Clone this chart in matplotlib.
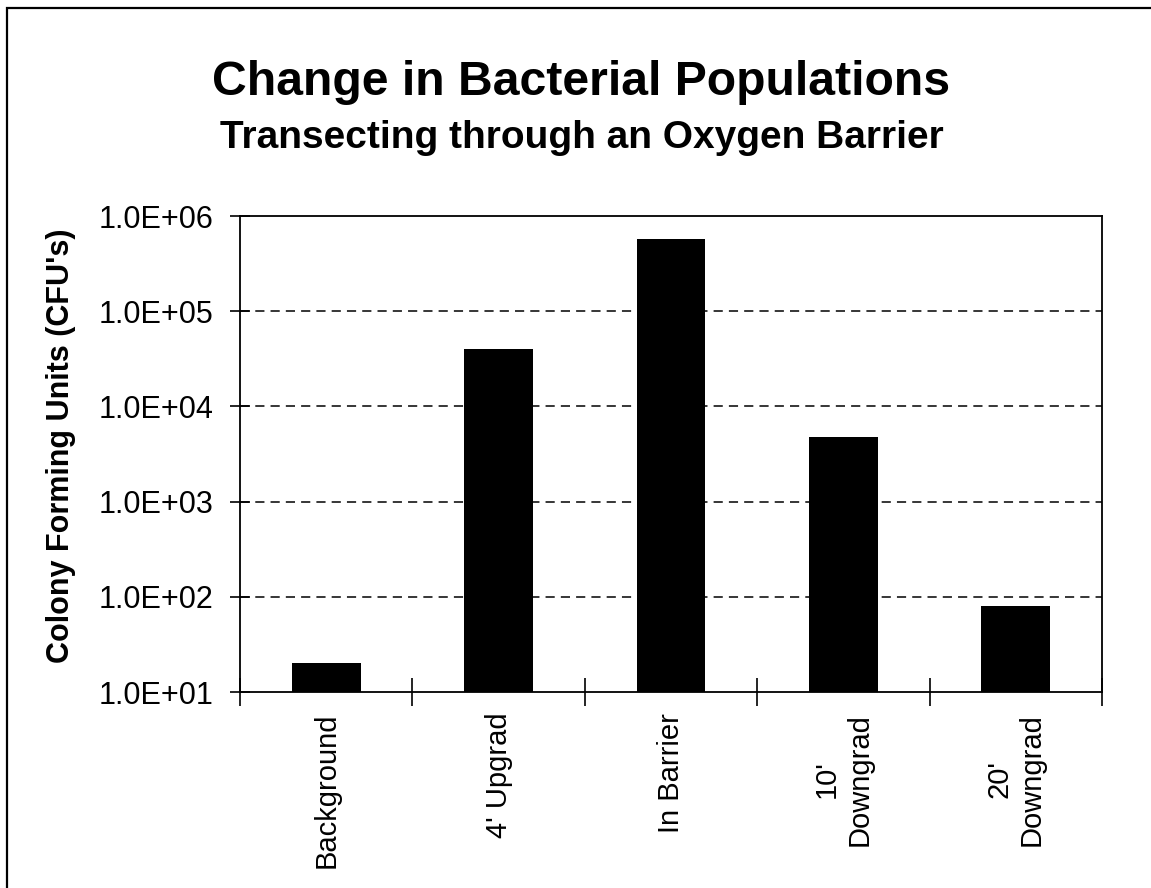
import matplotlib
matplotlib.use("Agg")
import matplotlib.pyplot as plt
import matplotlib.patches as mpatches
from matplotlib.ticker import FixedLocator, NullFormatter, FixedFormatter
import numpy as np

categories = ["Background", "4' Upgrad", "In Barrier", "10'\nDowngrad", "20'\nDowngrad"]
cfu_values = [20, 40000, 570000, 4800, 80]
ytick_values = [1e1, 1e2, 1e3, 1e4, 1e5, 1e6]
ytick_labels = ["1.0E+01", "1.0E+02", "1.0E+03", "1.0E+04", "1.0E+05", "1.0E+06"]

plt.rcParams['font.family'] = ['Liberation Sans', 'DejaVu Sans']

fig = plt.figure(figsize=(11.51, 8.88), dpi=100)
ax = fig.add_axes([240/1151, 1-692/888, (1102-240)/1151, (692-216)/888])

x = np.arange(len(categories)) + 0.5
ax.bar(x, cfu_values, width=0.4, color='black', bottom=0, zorder=3)
ax.set_yscale('log')
ax.set_ylim(1e1, 1e6)
ax.set_xlim(0, len(categories))

ax.yaxis.set_major_locator(FixedLocator(ytick_values))
ax.yaxis.set_major_formatter(FixedFormatter(ytick_labels))
ax.yaxis.set_minor_locator(FixedLocator([]))
ax.tick_params(axis='y', which='major', direction='inout', length=14, width=1.2,
               labelsize=22, pad=12, colors='black')

ax.xaxis.set_major_locator(FixedLocator(np.arange(len(categories)+1)))
ax.xaxis.set_major_formatter(NullFormatter())
ax.xaxis.set_minor_locator(FixedLocator(x))
ax.xaxis.set_minor_formatter(FixedFormatter(categories))
ax.tick_params(axis='x', which='major', direction='inout', length=20, width=1.2)
ax.tick_params(axis='x', which='minor', length=0, labelsize=21, pad=15,
               labelrotation=90)

for yv in ytick_values[1:-1]:
    ax.axhline(yv, color='black', linestyle=(0, (6, 4)), linewidth=1.1, zorder=1)

for s in ax.spines.values():
    s.set_linewidth(1.3)
    s.set_color('black')

ax.set_ylabel("Colony Forming Units (CFU's)", fontsize=22, fontweight='bold')
ax.yaxis.set_label_coords(-0.19, 0.517)

fig.text(0.5052, 1-95/888, "Change in Bacterial Populations", ha='center', va='baseline',
         fontsize=34.7, fontweight='bold')
fig.text(0.5052, 1-148/888, "Transecting through an Oxygen Barrier", ha='center', va='baseline',
         fontsize=28, fontweight='bold')

border = mpatches.Rectangle((7/1151, -0.1), 1.2, 1.1 - 8/888, transform=fig.transFigure,
                            fill=False, edgecolor='black', linewidth=1.6, clip_on=False)
fig.patches.append(border)

fig.savefig("out.png", dpi=100, facecolor='white')
